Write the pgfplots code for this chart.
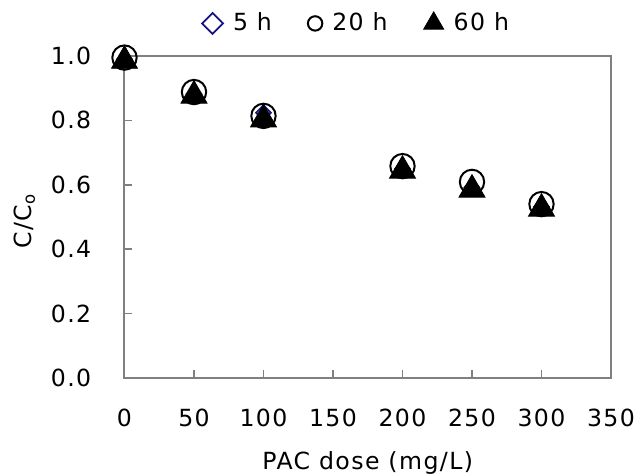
\documentclass[border=0pt]{standalone}
\usepackage{fontspec}
\setmainfont[LetterSpace=6]{DejaVu Sans}
\usepackage{pgfplots}
\pgfplotsset{compat=1.18}
\definecolor{axgray}{RGB}{128,128,128}
\definecolor{dblue}{RGB}{20,20,130}

\begin{document}
\fontsize{11.8}{14}\selectfont
\begin{tikzpicture}
% page frame: axis box sits 62.25pt from the left, 49pt from the bottom
\useasboundingbox (-62.25pt,-49pt) rectangle (256.75pt,189pt);
\begin{axis}[
    at={(0,0)}, anchor=south west,
    scale only axis,
    width=243.25pt,
    height=161pt,
    xmin=0, xmax=350,
    ymin=0, ymax=1,
    xtick={0,50,...,350},
    ytick={0,0.2,...,1.0},
    /pgf/number format/assume math mode=true,
    yticklabel style={/pgf/number format/fixed,/pgf/number format/fixed zerofill,
        /pgf/number format/precision=1, xshift=-12.5pt},
    xticklabel style={yshift=-11.5pt},
    tick align=inside,
    major tick length=4pt,
    xtick pos=left, ytick pos=left,
    axis line style={axgray, line width=1pt},
    every tick/.style={axgray, line width=0.8pt},
    xlabel={PAC dose (mg/L)},
    ylabel={C/C\textsubscript{o}},
    xlabel style={at={(axis description cs:0.5,0)}, anchor=north, yshift=-32.5pt},
    ylabel style={at={(axis description cs:0,0.5)}, anchor=center, yshift=50pt, xshift=-2pt},
    clip=false,
    legend columns=-1,
    legend style={draw=none, fill=none, at={(0.475,1)}, anchor=center, yshift=16.5pt,
        nodes={inner sep=0pt},
        /tikz/every odd column/.append style={column sep=5pt},
        /tikz/every even column/.append style={column sep=18pt}},
    legend image code/.code={\draw[#1] plot coordinates {(0,0)};},
]
\addplot[only marks, mark=square, mark size=2.6pt, mark options={rotate=45},
    draw=dblue, line width=0.9pt,
    legend image post style={mark size=3.7pt}]
  coordinates {(0,0.99) (50,0.882) (100,0.824) (200,0.65) (250,0.592) (300,0.532)};
\addplot[only marks, mark=o, mark size=6.1pt, black, line width=1pt,
    legend image post style={mark size=3.6pt}]
  coordinates {(0,0.995) (50,0.888) (100,0.814) (200,0.658) (250,0.609) (300,0.540)};
\addplot[only marks, mark=triangle*, mark size=7.5pt, black,
    legend image post style={mark size=5.8pt}]
  coordinates {(0,0.985) (50,0.877) (100,0.803) (200,0.644) (250,0.585) (300,0.526)};
\legend{5 h, 20 h, 60 h}
\end{axis}
\end{tikzpicture}
\end{document}
